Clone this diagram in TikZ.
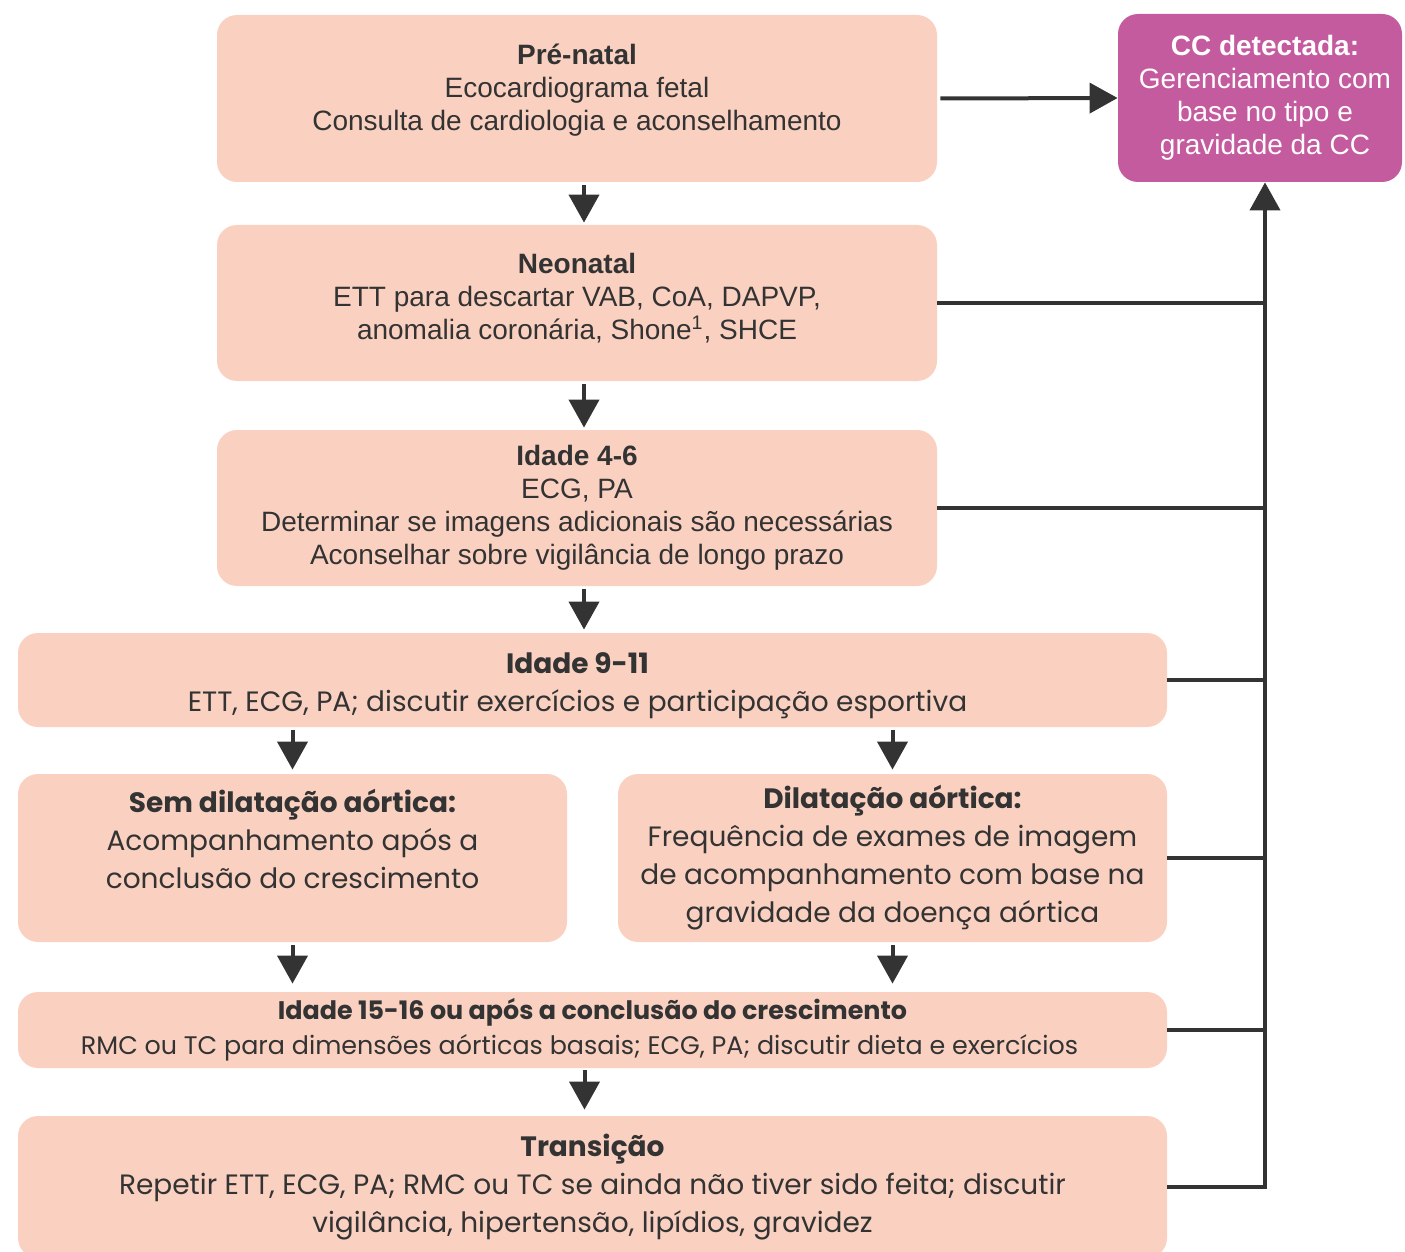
\documentclass[tikz,border=0pt]{standalone}
\usepackage{fontspec}
\setmainfont{Liberation Sans}
\newfontfamily\montfont{Poppins}
\usepackage{xcolor}
\definecolor{boxfill}{HTML}{FAD1C1}
\definecolor{ccfill}{HTML}{C55B9F}
\definecolor{linecol}{HTML}{333333}
\usetikzlibrary{arrows.meta, positioning, calc}
\tikzset{%
    stage/.style={%
        fill=boxfill, rounded corners=10pt, text=linecol, align=center,
        inner sep=0pt, font=\fontsize{14}{16.5}\selectfont
    },
    mstage/.style={%
        stage, font=\montfont\fontsize{14}{19}\selectfont
    },
    ccbox/.style={%
        stage, fill=ccfill, text=white
    },
    flow/.style={%
        draw=linecol, line width=2pt, -{Triangle[width=15pt,length=14pt]}
    },
    link/.style={%
        draw=linecol, line width=2pt
    }
}

\begin{document}
\begin{tikzpicture}[x=0.5pt, y=-0.5pt]
    \useasboundingbox (0,0) rectangle (1405,1252);

    \node[stage, minimum width=360pt, minimum height=83.5pt] (prenatal) at (577,98.5)
        {\textbf{Pré-natal}\\Ecocardiograma fetal\\Consulta de cardiologia e aconselhamento\\[-5pt]\mbox{}};
    \node[ccbox, minimum width=142pt, minimum height=84pt] (cc) at (1260,98)
        {\textbf{CC detectada:}\kern-5pt\\Gerenciamento com\kern-5pt\\base no tipo e\kern-5pt\\gravidade da CC\kern-5pt};
    \node[stage, minimum width=360pt, minimum height=78pt] (neonatal) at (577,303)
        {\textbf{Neonatal}\\ETT para descartar VAB, CoA, DAPVP,\\anomalia coronária, Shone\textsuperscript{1}, SHCE\\[-10pt]\mbox{}};
    \node[stage, minimum width=360pt, minimum height=78pt] (idade46) at (577,508)
        {\textbf{Idade 4-6}\\ECG, PA\\Determinar se imagens adicionais são necessárias\\Aconselhar sobre vigilância de longo prazo};
    \node[mstage, minimum width=574.5pt, minimum height=47pt] (idade911) at (592.5,680)
        {\mbox{}\\[-3pt]\textbf{Idade 9-11}\kern15pt\\ETT, ECG, PA; discutir exercícios e participação esportiva\kern15pt};
    \node[mstage, minimum width=274.5pt, minimum height=84pt] (semdil) at (292.5,858)
        {\textbf{Sem dilatação aórtica:}\\Acompanhamento após a\\conclusão do crescimento\\\mbox{}};
    \node[mstage, minimum width=274.5pt, minimum height=84pt] (dil) at (892.5,858)
        {\textbf{Dilatação aórtica:}\\Frequência de exames de imagem\\de acompanhamento com base na\\gravidade da doença aórtica};
    \node[stage, font=\montfont\fontsize{12.7}{17.5}\selectfont, minimum width=574.5pt, minimum height=38pt] (idade1516) at (592.5,1030)
        {\textbf{Idade 15-16 ou após a conclusão do crescimento}\\RMC ou TC para dimensões aórticas basais; ECG, PA; discutir dieta e exercícios\kern13pt};
    \node[mstage, minimum width=574.5pt, minimum height=71pt] (trans) at (592.5,1187)
        {\textbf{Transição}\\Repetir ETT, ECG, PA; RMC ou TC se ainda não tiver sido feita; discutir\\vigilância, hipertensão, lipídios, gravidez};

    \coordinate (bus) at (1265,0);

    % main column
    \draw[flow] ([xshift=3.5pt,yshift=-1.5pt]prenatal.south) -- ([xshift=3.5pt,yshift=1pt]neonatal.north);
    \draw[flow] ([xshift=3.5pt,yshift=-1.5pt]neonatal.south) -- ([xshift=3.5pt,yshift=1pt]idade46.north);
    \draw[flow] ([xshift=3.5pt,yshift=-1.5pt]idade46.south) -- ([xshift=3.5pt,yshift=1.5pt]idade46.south |- idade911.north);
    \draw[flow] ([yshift=-1.5pt]idade911.south -| semdil.north) -- ([yshift=2pt]semdil.north);
    \draw[flow] ([yshift=-1.5pt]idade911.south -| dil.north) -- ([yshift=2pt]dil.north);
    \draw[flow] ([yshift=-1.5pt]semdil.south) -- ([yshift=4pt]semdil.south |- idade1516.north);
    \draw[flow] ([yshift=-1.5pt]dil.south) -- ([yshift=4pt]dil.south |- idade1516.north);
    \draw[flow] ([xshift=-4pt,yshift=-1pt]idade1516.south) -- ([xshift=-4pt,yshift=3pt]idade1516.south |- trans.north);

    % to CC
    \draw[flow] ([xshift=1.5pt]prenatal.east) -- (cc.west);
    \draw[link] (neonatal.east) -- (neonatal.east -| bus);
    \draw[link] (idade46.east) -- (idade46.east -| bus);
    \draw[link] (idade911.east) -- (idade911.east -| bus);
    \draw[link] (dil.east) -- (dil.east -| bus);
    \draw[link] (idade1516.east) -- (idade1516.east -| bus);
    \draw[flow] (trans.east) -- (trans.east -| bus) -- (bus |- cc.south);
\end{tikzpicture}
\end{document}
